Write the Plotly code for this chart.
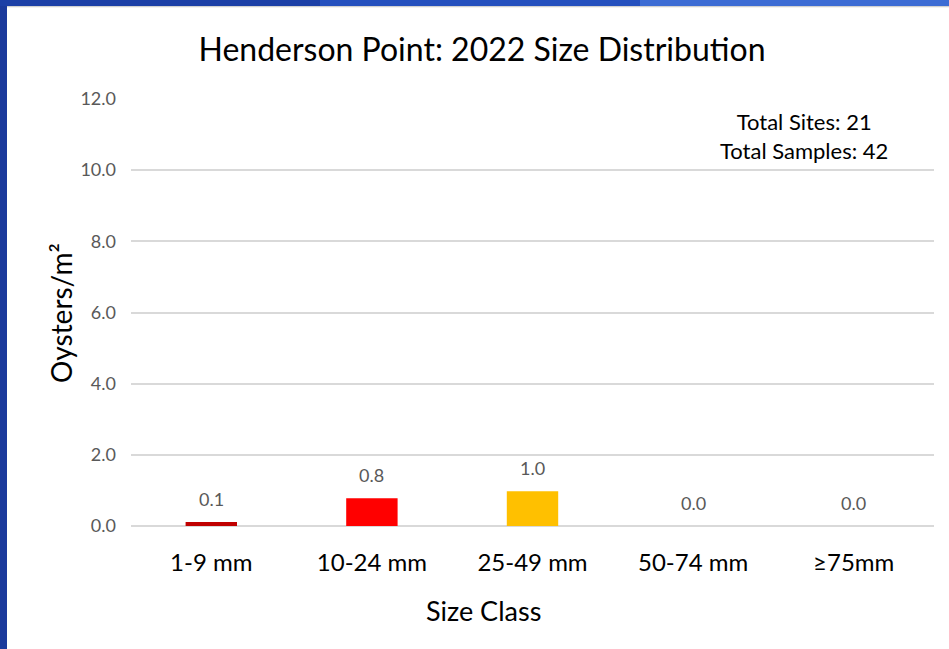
import plotly.graph_objects as go

categories = ["1-9 mm", "10-24 mm", "25-49 mm", "50-74 mm", "≥75mm"]
density = [0.11, 0.78, 0.98, 0.0, 0.0]
bar_colors = ["#C00000", "#FF0000", "#FFC000", "#92D050", "#00B050"]
y_ticks = [0, 2, 4, 6, 8, 10, 12]
title_text = "Henderson Point: 2022 Size Distribution"
x_title = "Size Class"
y_title = "Oysters/m²"
note_lines = ["Total Sites: 21", "Total Samples: 42"]

FONT = "Lato"
W, H = 949, 649
L, R, T, B = 131, 15, 99, 123
PW, PH = W - L - R, H - T - B


def px(x):
    return (x - L) / PW


def py(y):
    return (H - B - y) / PH


fig = go.Figure(
    go.Bar(
        x=categories,
        y=density,
        marker=dict(color=bar_colors, line=dict(width=0)),
        hoverinfo="x+y",
        width=0.32,
    )
)

label_annotations = [
    dict(
        x=c, y=v, xref="x", yref="y",
        text=f"{v:.1f}",
        showarrow=False,
        yanchor="middle",
        yshift=23,
        font=dict(family=FONT, size=18, color="#595959"),
    )
    for c, v in zip(categories, density)
]

fig.update_layout(
    width=W,
    height=H,
    paper_bgcolor="white",
    plot_bgcolor="white",
    margin=dict(l=L, r=R, t=T, b=B),
    showlegend=False,
    title=dict(
        text=title_text,
        x=482 / W,
        xanchor="center",
        y=1 - 50 / H,
        yanchor="middle",
        font=dict(family=FONT, size=32, color="#000000"),
    ),
    xaxis=dict(
        showgrid=False,
        showline=False,
        ticks="",
        ticklabelstandoff=20,
        tickfont=dict(family=FONT, size=24, color="#000000"),
    ),
    yaxis=dict(
        range=[0, 12],
        tickvals=y_ticks,
        tickformat=".1f",
        showgrid=True,
        gridcolor="#D9D9D9",
        gridwidth=1.5,
        zeroline=True,
        zerolinecolor="#D9D9D9",
        zerolinewidth=1.5,
        showline=False,
        ticks="",
        ticklabelstandoff=14,
        tickfont=dict(family=FONT, size=18, color="#595959"),
    ),
    annotations=label_annotations + [
        dict(
            text="<br>".join(note_lines),
            xref="paper", yref="paper",
            x=px(804), y=py(106),
            xanchor="center", yanchor="top",
            align="center",
            showarrow=False,
            font=dict(family=FONT, size=22, color="#000000"),
        ),
        dict(
            text=x_title,
            xref="paper", yref="paper",
            x=px(483), y=py(610),
            xanchor="center", yanchor="middle",
            showarrow=False,
            font=dict(family=FONT, size=27, color="#000000"),
        ),
        dict(
            text=y_title,
            xref="paper", yref="paper",
            x=px(61), y=py(313),
            xanchor="center", yanchor="middle",
            textangle=-90,
            showarrow=False,
            font=dict(family=FONT, size=28, color="#000000"),
        ),
    ],
    shapes=[
        dict(type="line", xref="paper", yref="paper",
             x0=px(7), x1=px(W), y0=py(6.5), y1=py(6.5),
             line=dict(color="#D0D0D0", width=1.5), layer="above"),
        dict(type="rect", xref="paper", yref="paper",
             x0=px(0), x1=px(7), y0=py(H), y1=py(0),
             fillcolor="#1B3A9C", line=dict(width=0), layer="above"),
        dict(type="rect", xref="paper", yref="paper",
             x0=px(0), x1=px(320), y0=py(6), y1=py(0),
             fillcolor="#1C3FA6", line=dict(width=0), layer="above"),
        dict(type="rect", xref="paper", yref="paper",
             x0=px(320), x1=px(640), y0=py(6), y1=py(0),
             fillcolor="#2450BE", line=dict(width=0), layer="above"),
        dict(type="rect", xref="paper", yref="paper",
             x0=px(640), x1=px(W), y0=py(6), y1=py(0),
             fillcolor="#3C6CD4", line=dict(width=0), layer="above"),
    ],
)

fig.write_html(
    "out.html",
    config={"displayModeBar": False},
    post_script="document.body.style.margin='0';document.body.style.overflow='hidden';",
)
